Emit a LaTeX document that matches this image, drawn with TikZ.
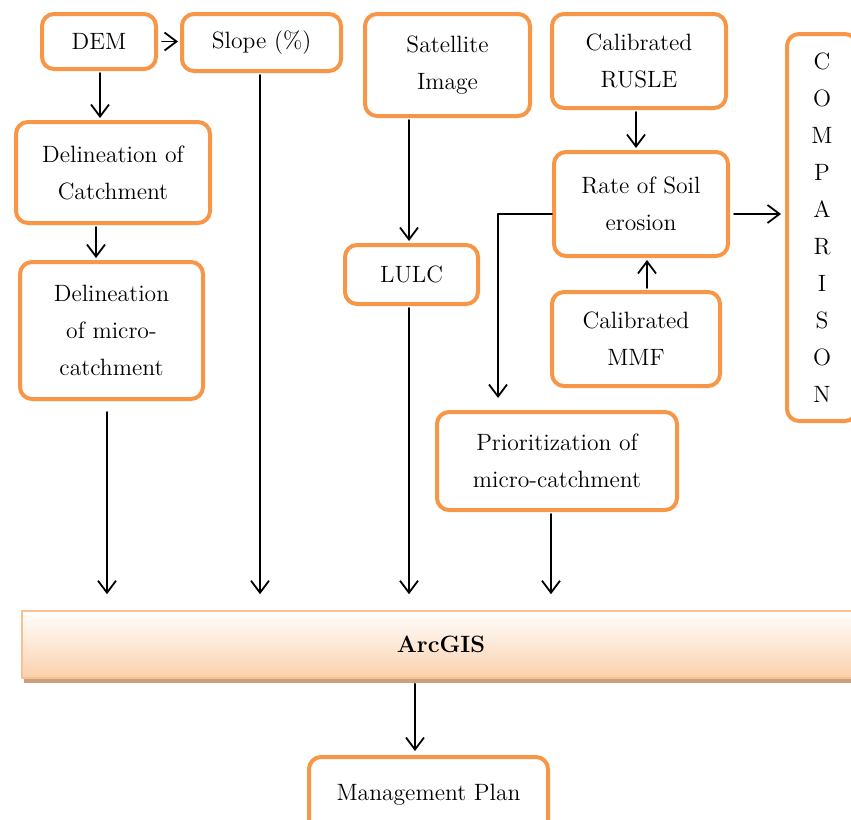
\documentclass[tikz,border=0pt]{standalone}
\usepackage{tikz}
\usetikzlibrary{arrows.meta,shadows}

\definecolor{boxorange}{HTML}{F79646}
\definecolor{arcpeach}{HTML}{FBD0AC}
\definecolor{arcline}{HTML}{FAC08F}
\definecolor{arcshadow}{HTML}{C9A181}

\begin{document}
\begin{tikzpicture}[line cap=round, line join=round, x=0.5pt, y=-0.5pt,
    flowbox/.style={draw=boxorange, line width=2pt, rounded corners=6pt, fill=white,
        align=center, inner sep=0pt, font=\fontsize{11.8}{18.5}\selectfont},
    flowarrow/.style={-{Straight Barb[length=6pt,width=9pt]}, line width=0.9pt}]
    \useasboundingbox (0,0) rectangle (851,819);
    \clip (0,0) rectangle (851,819);

    % Top row
    \node[flowbox, minimum width=57pt, minimum height=27.5pt] (dem) at (99,41.5) {DEM};
    \node[flowbox, minimum width=79.5pt, minimum height=28.5pt] (slope) at (261.5,42.5) {Slope (\%)};
    \node[flowbox, minimum width=82.5pt, minimum height=51pt] (sat) at (447.5,65) {Satellite\\Image};
    \node[flowbox, minimum width=87pt, minimum height=47pt] (rusle) at (639,61) {Calibrated\\RUSLE};

    % Comparison column
    \node[flowbox, minimum width=35pt, minimum height=193.5pt] (comp) at (822,227.5)
        {C\\O\\M\\P\\A\\R\\I\\S\\O\\N};

    % Catchment
    \node[flowbox, minimum width=97pt, minimum height=50.5pt] (catch) at (113,172.5) {Delineation of\\Catchment};
    \node[flowbox, minimum width=91.5pt, minimum height=68.5pt] (micro) at (111.5,330.5)
        {Delineation\\of micro-\\catchment};

    % Land use and erosion
    \node[flowbox, minimum width=66.5pt, minimum height=29.5pt] (lulc) at (411.5,274.5) {LULC};
    \node[flowbox, minimum width=87pt, minimum height=52pt] (rate) at (641,204) {Rate of Soil\\erosion};
    \node[flowbox, minimum width=84pt, minimum height=47pt] (mmf) at (636,339) {Calibrated\\MMF};
    \node[flowbox, minimum width=120pt, minimum height=49pt] (prior) at (557,461)
        {Prioritization of\\micro-catchment};

    % ArcGIS bar
    \node[draw=arcline, line width=0.8pt, top color=white, bottom color=arcpeach,
        drop shadow={shadow xshift=1pt, shadow yshift=-2.5pt, fill=arcshadow, opacity=1},
        minimum width=419pt, minimum height=33.5pt, inner sep=0pt,
        font=\fontsize{11.8}{14}\selectfont\bfseries] (arcgis) at (441,644.5) {ArcGIS};

    % Output
    \node[flowbox, minimum width=119.5pt, minimum height=38pt] (mgmt) at (428.5,795) {Management Plan};

    % Arrow columns
    \coordinate (xcatch) at (100,0);
    \coordinate (xmicro) at (96,0);
    \coordinate (xmicroout) at (107,0);
    \coordinate (xslope) at (260,0);
    \coordinate (xlulc) at (409,0);
    \coordinate (xprior) at (551,0);
    \coordinate (xrusle) at (636,0);
    \coordinate (xmmf) at (647,0);
    \coordinate (xturn) at (498,0);
    \coordinate (xmgmt) at (415,0);
    \coordinate (yrate) at (0,214);

    % Arrows
    \draw[flowarrow, shorten <=2pt, shorten >=1pt] (dem.east) -- (dem.east -| slope.west);
    \draw[flowarrow, shorten <=1pt, shorten >=1pt] (dem.south -| xcatch) -- (catch.north -| xcatch);
    \draw[flowarrow, shorten <=1pt, shorten >=1pt] (catch.south -| xmicro) -- (micro.north -| xmicro);
    \draw[flowarrow, shorten <=1pt, shorten >=1pt] (sat.south -| xlulc) -- (lulc.north -| xlulc);
    \draw[flowarrow, shorten <=1pt, shorten >=1pt] (rusle.south -| xrusle) -- (rate.north -| xrusle);
    \draw[flowarrow, shorten <=1pt, shorten >=1pt] (mmf.north -| xmmf) -- (rate.south -| xmmf);
    \draw[flowarrow, shorten <=2pt, shorten >=2pt] (rate.east |- yrate) -- (comp.west |- yrate);
    \draw[flowarrow, shorten >=6pt] (rate.west |- yrate) -| (prior.north -| xturn);

    % Into ArcGIS
    \draw[flowarrow, shorten <=5.5pt, shorten >=8pt] (micro.south -| xmicroout) -- (arcgis.north -| xmicroout);
    \draw[flowarrow, shorten <=1pt, shorten >=8pt] (slope.south -| xslope) -- (arcgis.north -| xslope);
    \draw[flowarrow, shorten <=1pt, shorten >=8pt] (lulc.south -| xlulc) -- (arcgis.north -| xlulc);
    \draw[flowarrow, shorten <=1pt, shorten >=8pt] (prior.south -| xprior) -- (arcgis.north -| xprior);

    % Out of ArcGIS
    \draw[flowarrow, shorten <=2.5pt, shorten >=2pt] (arcgis.south -| xmgmt) -- (mgmt.north -| xmgmt);
\end{tikzpicture}
\end{document}
